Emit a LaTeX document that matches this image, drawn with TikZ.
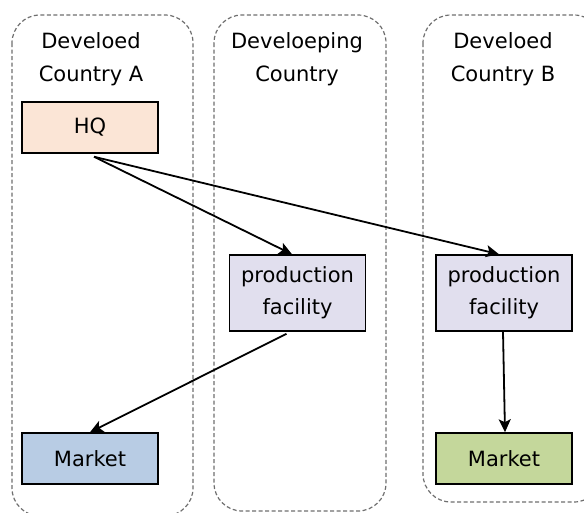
\documentclass[tikz,border=0pt]{standalone}
\usepackage{fontspec}
\setmainfont{DejaVu Sans}
\usetikzlibrary{arrows.meta}
\definecolor{hqfill}{RGB}{251,229,214}
\definecolor{pffill}{RGB}{225,223,238}
\definecolor{mkblue}{RGB}{184,204,228}
\definecolor{mkgreen}{RGB}{196,215,155}
\definecolor{dashgray}{RGB}{110,110,110}
\begin{document}
\begin{tikzpicture}[x=1pt,y=-1pt,
  container/.style={draw=dashgray,line width=1.2pt,dash pattern=on 4pt off 2.5pt,rounded corners=28pt},
  box/.style={draw=black,line width=1.5pt,font=\fontsize{21}{32}\selectfont,align=center,inner sep=0pt},
  small/.style={box,minimum width=136pt,minimum height=51pt},
  tall/.style={box,minimum width=136pt,minimum height=76pt},
  lbl/.style={font=\fontsize{21}{33}\selectfont,align=center,inner sep=0pt,anchor=base},
  conn/.style={line width=1.8pt,-{Stealth[length=13pt,width=12pt,inset=3pt]}}]
\useasboundingbox (0,0) rectangle (584,512);
\begin{scope}
\clip (0,0) rectangle (584,512);
\draw[container] (12,15) rectangle (193,516);
\draw[container] (214,15) rectangle (386,511);
\draw[container] (423,15) rectangle (602,502);
\end{scope}
\node[lbl] (la) at (91,81) {Develoed\\Country A};
\node[lbl] (lb) at (297,81) {Develoeping\\Country};
\node[lbl] (lc) at (503,81) {Develoed\\Country B};
\node[small,fill=hqfill] (hq) at (90,127.5) {HQ};
\node[tall,fill=pffill] (pfm) at (297.5,293) {production\\facility};
\node[tall,fill=pffill] (pfr) at (504,293) {production\\facility};
\node[small,fill=mkblue] (mkl) at (90,458.5) {Market};
\node[small,fill=mkgreen] (mkr) at (504,458.5) {Market};
\draw[conn] ([shift={(4,3)}]hq.south) -- ([xshift=-5.5pt]pfm.north);
\draw[conn] ([shift={(4,3)}]hq.south) -- ([xshift=-5pt]pfr.north);
\draw[conn] ([shift={(-11,2)}]pfm.south) -- (mkl.north);
\draw[conn] ([xshift=-1pt]pfr.south) -- ([xshift=1pt]mkr.north);
\end{tikzpicture}
\end{document}
